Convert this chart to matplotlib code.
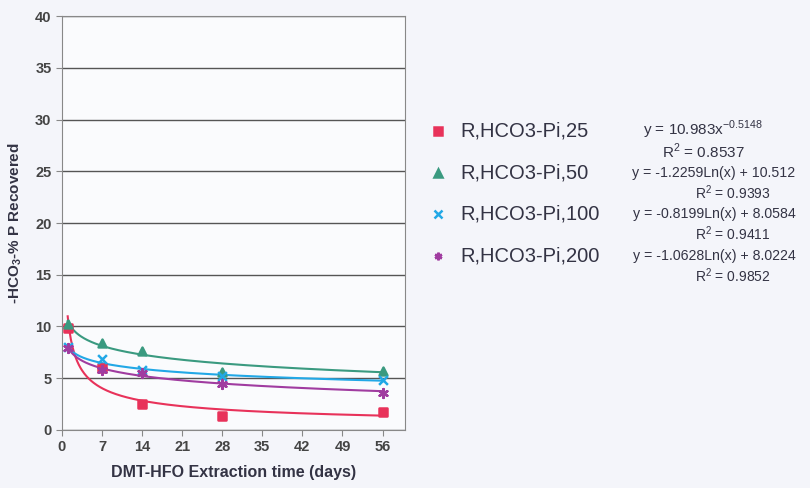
import numpy as np
import matplotlib.pyplot as plt

plt.rcParams['font.family'] = ['Liberation Sans', 'DejaVu Sans']
plt.rcParams['mathtext.fontset'] = 'custom'
plt.rcParams['mathtext.rm'] = 'Liberation Sans'
plt.rcParams['mathtext.bf'] = 'Liberation Sans:bold'

# sampling days
days = [1, 7, 14, 28, 56]

# % P recovered per series
p25 = [9.9, 6.0, 2.5, 1.3, 1.7]
p50 = [10.2, 8.4, 7.6, 5.6, 5.7]
p100 = [8.0, 6.9, 5.8, 5.2, 4.8]
p200 = [7.9, 5.8, 5.5, 4.4, 3.6]

labels = ["R,HCO3-Pi,25", "R,HCO3-Pi,50", "R,HCO3-Pi,100", "R,HCO3-Pi,200"]
colors = ["#e8325a", "#3a9a80", "#22a8e6", "#a03ca0"]
markers = ["s", "^", "x", (6, 2, 0)]

# trendline coefficients as printed on the chart
pow_a, pow_b = 10.983, -0.5148
log_coef = [(-1.2259, 10.512), (-0.8199, 8.0584), (-1.0628, 8.0224)]
eq_text = [("y = 10.983x$^{-0.5148}$", "R$^2$ = 0.8537"),
           ("y = -1.2259Ln(x) + 10.512", "R$^2$ = 0.9393"),
           ("y = -0.8199Ln(x) + 8.0584", "R$^2$ = 0.9411"),
           ("y = -1.0628Ln(x) + 8.0224", "R$^2$ = 0.9852")]

bg = "#f4f5fa"
fig = plt.figure(figsize=(8.1, 4.88), dpi=100, facecolor=bg)
ax = fig.add_axes([0.0765, 0.119, 0.424, 0.848])
ax.set_facecolor("#fafbfd")

xs = np.linspace(1, 56, 400)
ax.plot(xs, pow_a * xs ** pow_b, color=colors[0], lw=1.5, zorder=2)
for (m, c), col in zip(log_coef, colors[1:]):
    ax.plot(xs, m * np.log(xs) + c, color=col, lw=1.5, zorder=2)

series = [p25, p50, p100, p200]
sizes = [28, 32, 40, 40]
for vals, col, mk, sz in zip(series, colors, markers, sizes):
    ax.scatter(days, vals, color=col, marker=mk, s=sz, linewidths=1.8, zorder=3)

ax.set_xlim(0, 60)
ax.set_ylim(0, 40)
ax.set_xticks(range(0, 57, 7))
ax.set_yticks(range(0, 41, 5))
ax.grid(axis="y", color="#555555", lw=1)
ax.set_axisbelow(True)
for s in ax.spines.values():
    s.set_color("#888888")
ax.tick_params(colors="#888888", labelcolor="#444444", labelsize=10.5, length=4)
for t in ax.get_xticklabels() + ax.get_yticklabels():
    t.set_fontweight("bold")
ax.set_xlabel("DMT-HFO Extraction time (days)", fontsize=11.5, fontweight="bold",
              color="#333344", labelpad=8)
ax.set_ylabel("-HCO$_\\mathbf{3}$-% P Recovered", fontsize=11, fontweight="bold",
              color="#333344", labelpad=8)

# legend drawn by hand on the right
ys = [131, 173, 214, 256]
for lab, col, mk, y in zip(labels, colors, markers, ys):
    fy = 1 - y / 488
    fig.lines.append(plt.Line2D([438 / 810], [fy], transform=fig.transFigure,
                                marker=mk, color=col, markersize=5.5, mew=1.8, ls="none"))
    fig.text(460 / 810, fy, lab, fontsize=14.5, color="#333344", va="center")

for i, (eq, r2) in enumerate(eq_text):
    y = ys[i]
    if i == 0:
        fig.text(703 / 810, 1 - (y - 1) / 488, eq, fontsize=11, color="#333344",
                 ha="center", va="center")
        fig.text(703 / 810, 1 - (y + 20) / 488, r2, fontsize=11, color="#333344",
                 ha="center", va="center")
    else:
        fig.text(714 / 810, 1 - y / 488, eq, fontsize=10.2, color="#333344",
                 ha="center", va="center")
        fig.text(733 / 810, 1 - (y + 20) / 488, r2, fontsize=10, color="#333344",
                 ha="center", va="center")

fig.savefig("out.png", dpi=100, facecolor=bg)
